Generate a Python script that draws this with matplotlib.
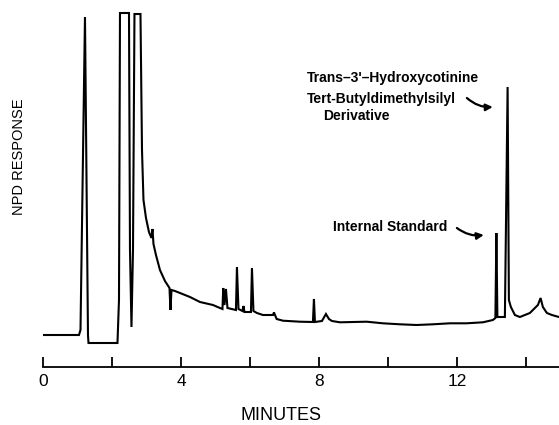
import numpy as np
import matplotlib
matplotlib.use('Agg')
import matplotlib.pyplot as plt

plt.rcParams['font.family'] = ['Liberation Sans', 'DejaVu Sans']

# chromatogram trace: time in minutes, detector response (arbitrary units)
minutos = [0.000, 1.043, 1.087, 1.217, 1.304, 1.319, 2.159, 2.203, 2.232, 2.493,
           2.522, 2.565, 2.609, 2.652, 2.826, 2.870, 2.913, 2.986, 3.072, 3.145,
           3.174, 3.203, 3.275, 3.391, 3.536, 3.667, 3.696, 3.725, 3.826, 3.971,
           4.261, 4.551, 4.928, 5.130, 5.203, 5.226, 5.261, 5.304, 5.348, 5.594,
           5.623, 5.667, 5.783, 5.812, 5.841, 6.029, 6.058, 6.101, 6.203, 6.377,
           6.667, 6.696, 6.774, 6.957, 7.449, 7.826, 7.855, 7.884, 8.087, 8.203,
           8.290, 8.377, 8.609, 9.383, 9.855, 10.348, 10.832, 11.304, 11.797, 12.281,
           12.754, 13.043, 13.116, 13.145, 13.174, 13.275, 13.391, 13.470, 13.507, 13.565,
           13.681, 13.826, 13.971, 14.116, 14.261, 14.348, 14.426, 14.493, 14.609, 14.754,
           14.957]
respuesta = [0, 0, 5, 318, 0, -8, -8, 35, 322, 322,
             85, 8, 85, 321, 321, 185, 135, 117, 103, 97,
             106, 91, 80, 65, 54, 47, 25, 45, 44, 42,
             38, 33, 30, 27, 26, 47, 30, 46, 27, 25,
             68, 26, 24, 29, 23, 23, 67, 24, 22, 20,
             20, 22.5, 16, 14.3, 13.3, 13, 36, 13, 14, 21,
             16, 14, 12.7, 13.3, 11.7, 10.7, 10, 10.7, 11.7, 11.7,
             12.7, 15, 17, 102, 18, 18, 18, 248, 35, 28,
             20, 18, 20, 22, 27, 30, 37, 28, 22, 20,
             18]

ticksMayores = [0, 4, 8, 12]
ticksMenores = [2, 6, 10, 14]

fig = plt.figure(figsize=(5.59, 4.25), dpi=100)
ax = fig.add_axes([43/559, 58/425, 1 - 43/559, 1 - 58/425])

ax.plot(minutos, respuesta, color='black', lw=1.5, solid_joinstyle='miter')

ax.set_xlim(0, 14.96)
ax.set_ylim(-32, 335)

for lado in ['left', 'top', 'right']:
	ax.spines[lado].set_visible(False)
ax.spines['bottom'].set_linewidth(1.3)
ax.set_yticks([])
ax.set_xticks(ticksMayores)
ax.set_xticks(ticksMenores, minor=True)
ax.set_xticklabels([str(t) for t in ticksMayores])
ax.tick_params(axis='x', which='both', direction='in', length=7, width=1.3, pad=5, labelsize=12.5)

# etiquetas de picos
flecha = dict(arrowstyle='-|>', color='black', lw=1.6, mutation_scale=10,
              connectionstyle='arc3,rad=0.2', shrinkA=0, shrinkB=0)
ax.text(7.652, 257, "Trans–3'–Hydroxycotinine", fontsize=10, fontweight='bold', va='center', ha='left')
ax.text(7.652, 236, "Tert-Butyldimethylsilyl", fontsize=10, fontweight='bold', va='center', ha='left')
ax.text(8.116, 219, "Derivative", fontsize=10, fontweight='bold', va='center', ha='left')
ax.annotate('', xy=(13.04, 228), xytext=(12.29, 237), arrowprops=flecha)
ax.text(8.406, 108, "Internal Standard", fontsize=10, fontweight='bold', va='center', ha='left')
ax.annotate('', xy=(12.78, 100), xytext=(12.0, 107), arrowprops=flecha)

fig.text(281/559, 1 - 415/425, 'MINUTES', fontsize=13, ha='center', va='center')
fig.text(19/559, 1 - 157/425, 'NPD RESPONSE', fontsize=10.5, ha='center', va='center', rotation=90)

plt.savefig('out.png', dpi=100)
